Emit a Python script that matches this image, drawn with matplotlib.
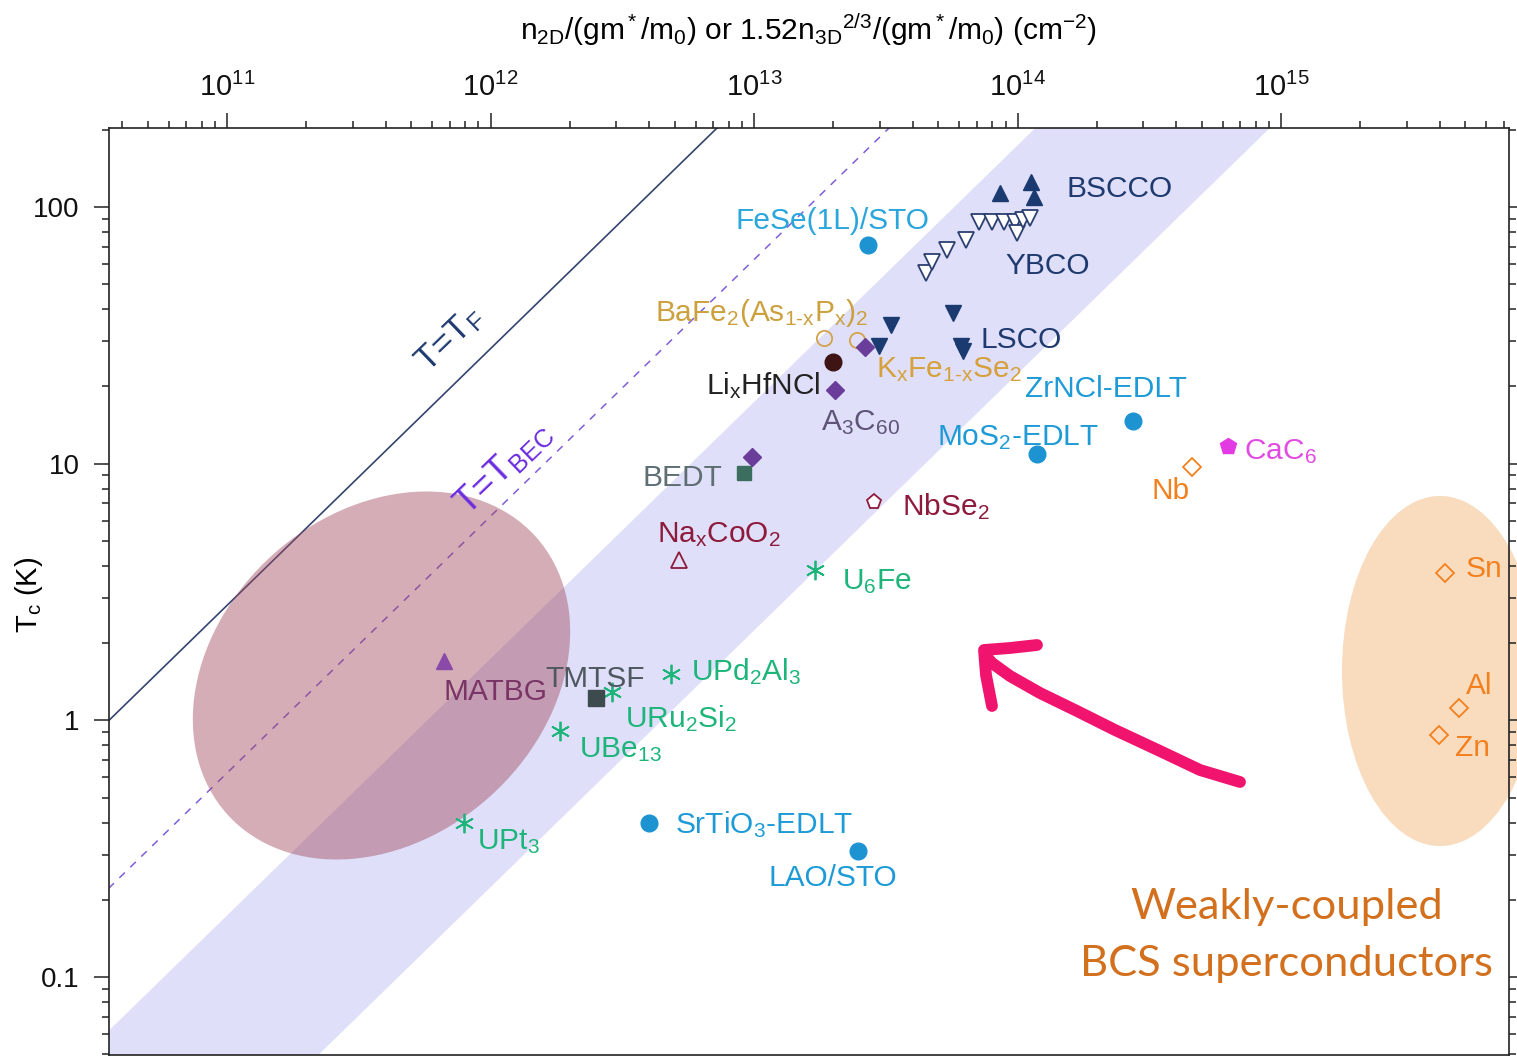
import numpy as np
import matplotlib
matplotlib.use("Agg")
import matplotlib.pyplot as plt
from matplotlib.patches import Ellipse
from matplotlib.lines import Line2D
from matplotlib.ticker import LogLocator, NullFormatter, FuncFormatter

plt.rcParams['font.family'] = ['Liberation Sans', 'DejaVu Sans']
plt.rcParams['mathtext.fontset'] = 'custom'
plt.rcParams['mathtext.rm'] = 'Liberation Sans'
plt.rcParams['mathtext.it'] = 'Liberation Sans'
plt.rcParams['mathtext.bf'] = 'Liberation Sans:bold'
plt.rcParams['mathtext.default'] = 'regular'

# ---------------- data (n in cm^-2 scaled, Tc in K) ----------------
bscco_n = [8.6e13, 1.12e14, 1.15e14]
bscco_t = [113, 125, 109]
ybco_n = [4.48e13, 4.72e13, 5.38e13, 6.36e13, 7.12e13, 7.97e13, 8.85e13, 9.75e13, 9.91e13, 1.045e14, 1.11e14]
ybco_t = [55.1, 60.8, 67.7, 74.1, 87.1, 87.0, 87.0, 87.0, 78.9, 88.7, 90.3]
lsco_n = [3.30e13, 2.97e13, 5.71e13, 6.12e13, 6.23e13]
lsco_t = [34.6, 28.6, 38.5, 28.6, 27.4]
edlt_n = [2.70e13, 2.75e14, 1.19e14, 3.98e12, 2.47e13]      # FeSe/STO, ZrNCl, MoS2, SrTiO3, LAO/STO
edlt_t = [70.8, 14.6, 10.9, 0.40, 0.309]
bafe_n = [1.84e13, 2.45e13]
bafe_t = [30.8, 30.2]
lihf_n = [1.99e13]
lihf_t = [24.8]
a3c60_n = [2.02e13, 2.63e13, 9.8e12]
a3c60_t = [19.3, 28.4, 10.6]
bedt_n = [9.13e12]
bedt_t = [9.17]
cac6_n = [6.27e14]
cac6_t = [11.7]
nbse2_n = [2.84e13]
nbse2_t = [7.07]
naco_n = [5.21e12]
naco_t = [4.2]
heavy_n = [1.71e13, 4.82e12, 2.90e12, 1.83e12, 7.91e11]     # U6Fe, UPd2Al3, URu2Si2, UBe13, UPt3
heavy_t = [3.84, 1.51, 1.29, 0.906, 0.40]
tmtsf_n = [2.52e12]
tmtsf_t = [1.22]
matbg_n = [6.68e11]
matbg_t = [1.71]
bcs_n = [4.61e14, 4.18e15, 4.72e15, 3.96e15]                # Nb, Sn, Al, Zn
bcs_t = [9.67, 3.74, 1.12, 0.874]

# Lines / band: T = n / C
tf_const = 10**10.552
tbec_const = 10**11.205
band_upper_const = 10**11.76
band_lower_const = 10**12.65

# labels: text, n, T (left/baseline anchor), color
labels = [
    ("BSCCO", 1.53e14, 109, '#1F3A6E'),
    ("YBCO", 9.0e13, 54.6, '#1F3A6E'),
    ("LSCO", 7.24e13, 28.1, '#1F3A6E'),
    ("FeSe(1L)/STO", 8.51e12, 81.8, '#2AA6DC'),
    (r"BaFe$_2$(As$_{1\text{-}x}$P$_x$)$_2$", 4.19e12, 35.8, '#CDA03E'),
    (r"K$_x$Fe$_{1\text{-}x}$Se$_2$", 2.89e13, 21.7, '#D6A03A'),
    (r"Li$_x$HfNCl", 6.55e12, 18.6, '#222222'),
    (r"A$_3$C$_{60}$", 1.79e13, 13.5, '#5E5478'),
    ("ZrNCl-EDLT", 1.07e14, 18.1, '#1E9BD7'),
    (r"MoS$_2$-EDLT", 4.93e13, 11.8, '#1E9BD7'),
    ("BEDT", 3.78e12, 8.16, '#5F6E72'),
    (r"CaC$_6$", 7.21e14, 10.4, '#E24BE2'),
    ("Nb", 3.23e14, 7.26, '#F3801E'),
    (r"NbSe$_2$", 3.63e13, 6.29, '#8E1A3C'),
    (r"Na$_x$CoO$_2$", 4.30e12, 4.94, '#8E1A3C'),
    (r"U$_6$Fe", 2.15e13, 3.24, '#1DB57A'),
    ("MATBG", 6.64e11, 1.20, '#7A3466'),
    ("TMTSF", 1.62e12, 1.345, '#4E585E'),
    (r"UPd$_2$Al$_3$", 5.74e12, 1.43, '#1DB57A'),
    (r"URu$_2$Si$_2$", 3.25e12, 0.939, '#1DB57A'),
    (r"UBe$_{13}$", 2.16e12, 0.717, '#1DB57A'),
    (r"UPt$_3$", 8.85e11, 0.314, '#1DB57A'),
    (r"SrTiO$_3$-EDLT", 5.03e12, 0.363, '#1E9BD7'),
    ("LAO/STO", 1.135e13, 0.2256, '#1E9BD7'),
    ("Sn", 5.01e15, 3.61, '#F3801E'),
    ("Al", 5.01e15, 1.27, '#F3801E'),
    ("Zn", 4.59e15, 0.724, '#F3801E'),
]

xlim = (10**10.552, 10**15.865)
ylim = (0.0497, 203)
yticks = [0.1, 1, 10, 100]

# ---------------- figure ----------------
W, H = 1517, 1061
fig = plt.figure(figsize=(W / 100, H / 100), dpi=100)
ax = fig.add_axes([109 / W, 1 - 1055 / H, 1400 / W, 927 / H])
ax.set_xscale('log')
ax.set_yscale('log')
ax.set_xlim(*xlim)
ax.set_ylim(*ylim)

# band
xs = np.logspace(10, 16.5, 200)
ax.fill_between(xs, xs / band_lower_const, xs / band_upper_const, color='#DFDFFA', lw=0, zorder=0.5)

# T_F and T_BEC lines
ax.plot(xs, xs / tf_const, color='#34446E', lw=1.2, zorder=1)
ax.plot(xs, xs / tbec_const, color='#7F5ED8', lw=1.1, ls=(0, (5, 5)), zorder=1)
ax.text(7.0e11, 30.5, r"T=T$_F$", rotation=44, rotation_mode='anchor', ha='center', va='center',
        color='#1F3A6E', fontsize=25, zorder=4)
ax.text(1.12e12, 9.6, r"T=T$_{BEC}$", rotation=44, rotation_mode='anchor', ha='center', va='center',
        color='#6A2BE0', fontsize=26, zorder=4)

# ellipses (annotation regions, pixel-based)
pink = Ellipse((381.5 / 100, (H - 675.5) / 100), 4.15, 3.25, angle=42, transform=fig.dpi_scale_trans,
               facecolor='#A14A5E', alpha=0.45, lw=0, zorder=1.5)
ax.add_patch(pink)
orange = Ellipse((1440 / 100, (H - 671) / 100), 1.96, 3.50, transform=fig.dpi_scale_trans,
                 facecolor='#F9DBBD', lw=0, zorder=0.8, clip_on=False)
ax.add_patch(orange)

# markers
ms = 12
ax.plot(bscco_n, bscco_t, '^', color='#1B3A70', ms=ms, ls='none', zorder=3)
ax.plot(ybco_n, ybco_t, 'v', mfc='white', mec='#2B3F70', mew=1.3, ms=11, ls='none', zorder=3)
ax.plot(lsco_n, lsco_t, 'v', color='#1B3A70', ms=ms, ls='none', zorder=3)
ax.plot(edlt_n, edlt_t, 'o', color='#1E93D2', ms=ms, ls='none', zorder=3)
ax.plot(bafe_n, bafe_t, 'o', mfc='none', mec='#D4A24A', mew=1.3, ms=11, ls='none', zorder=3)
ax.plot(lihf_n, lihf_t, 'o', color='#3E1414', ms=ms, ls='none', zorder=3)
ax.plot(a3c60_n, a3c60_t, 'D', color='#6A3D9A', ms=9, ls='none', zorder=3)
ax.plot(bedt_n, bedt_t, 's', color='#3C6E60', ms=10, ls='none', zorder=3)
ax.plot(cac6_n, cac6_t, 'p', color='#E33BE3', ms=12, ls='none', zorder=3)
ax.plot(nbse2_n, nbse2_t, 'p', mfc='white', mec='#8E1A3C', mew=1.3, ms=11, ls='none', zorder=3)
ax.plot(naco_n, naco_t, '^', mfc='none', mec='#8E1A3C', mew=1.3, ms=11, ls='none', zorder=3)
ax.plot(heavy_n, heavy_t, marker=(6, 2, 0), color='#1DB57A', mec='#1DB57A', mew=1.3, ms=14, ls='none', zorder=3)
ax.plot(tmtsf_n, tmtsf_t, 's', color='#3D4A4E', ms=11, ls='none', zorder=3)
ax.plot(matbg_n, matbg_t, '^', color='#8A4AA8', ms=11, ls='none', zorder=3)
ax.plot(bcs_n, bcs_t, 'D', mfc='none', mec='#F3801E', mew=1.3, ms=9, ls='none', zorder=3)

for txt, lx, ly, col in labels:
    ax.text(lx, ly, txt, color=col, fontsize=21.5, ha='left', va='baseline', zorder=4)

# axes styling
ax.xaxis.tick_top()
ax.xaxis.set_label_position('top')
ax.tick_params(axis='x', which='both', top=True, bottom=False, direction='out', labelsize=21,
               width=1.1, color='#222222', labelcolor='#111111', pad=8)
ax.tick_params(axis='y', which='both', left=True, right=True, direction='out', labelsize=20,
               width=1.1, color='#222222', labelcolor='#111111', pad=10)
ax.tick_params(which='major', length=11)
ax.tick_params(which='minor', length=5)
ax.xaxis.set_major_locator(LogLocator(base=10, numticks=20))
ax.xaxis.set_minor_locator(LogLocator(base=10, subs=np.arange(2, 10), numticks=40))
ax.xaxis.set_minor_formatter(NullFormatter())
ax.set_yticks(yticks)
ax.yaxis.set_major_formatter(FuncFormatter(lambda v, p: '%g' % v))
ax.yaxis.set_minor_locator(LogLocator(base=10, subs=np.arange(2, 10), numticks=40))
ax.yaxis.set_minor_formatter(NullFormatter())
for s in ax.spines.values():
    s.set_linewidth(1.2)
    s.set_color('#222222')

ax.set_xlabel(r"n$_{2D}$/(gm$^*$/m$_0$) or 1.52n$_{3D}$$^{2/3}$/(gm$^*$/m$_0$) (cm$^{-2}$)", fontsize=21.5)
ax.xaxis.set_label_coords(0.5, (1055 - 40) / 927)
ax.set_ylabel(r"T$_c$ (K)", fontsize=21)
ax.yaxis.set_label_coords((45 - 109) / 1400, (1055 - 595) / 927)

# hand-drawn arrow (annotation)
arrow_px = [(1240, 782), (1200, 770), (1160, 751), (1115, 730), (1077, 711), (1040, 693), (1010, 676), (992, 663), (985, 655)]
fig.add_artist(Line2D([x / 100 for x, y in arrow_px], [(H - y) / 100 for x, y in arrow_px],
                      transform=fig.dpi_scale_trans, color='#F0146E', lw=8.5,
                      solid_capstyle='round', solid_joinstyle='round', zorder=5))
head_px = [(1037, 645), (1010, 648), (984, 650), (986, 675), (992, 706)]
fig.add_artist(Line2D([x / 100 for x, y in head_px], [(H - y) / 100 for x, y in head_px],
                      transform=fig.dpi_scale_trans, color='#F0146E', lw=8.5,
                      solid_capstyle='round', solid_joinstyle='round', zorder=5))

fig.text(1287 / W, 1 - 907 / H, "Weakly-coupled", family=['Lato', 'DejaVu Sans'], fontsize=31.3,
         color='#D2701E', ha='center', va='center')
fig.text(1287 / W, 1 - 964 / H, "BCS superconductors", family=['Lato', 'DejaVu Sans'], fontsize=31.3,
         color='#D2701E', ha='center', va='center')

fig.savefig('out.png', dpi=100, facecolor='white')
